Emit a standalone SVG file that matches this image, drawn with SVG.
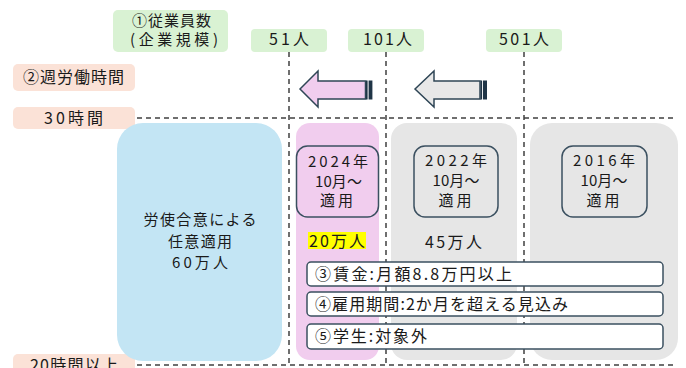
<svg xmlns="http://www.w3.org/2000/svg" width="686" height="368" viewBox="0 0 686 368">
<style>
text{font-family:"Noto Sans CJK JP","Noto Sans",sans-serif;fill:#1a1a1a;text-anchor:middle}
.t16{font-size:16px}
.t15{font-size:15px}
.green{fill:#d9f2d3}
.peach{fill:#fbe2d7}
.guide{stroke:#404040;stroke-width:1.5;stroke-dasharray:5 4;fill:none}
.inner{fill:none;stroke:#3b5060;stroke-width:1.5}
.cond{fill:#ffffff;stroke:#3b5060;stroke-width:1.5}
.arrow{stroke:#2f4656;stroke-width:1.5;stroke-linejoin:miter}
.bar{fill:#1f3446}
.lt{text-anchor:start}
</style>
<g id="connectors">
<line class="guide" x1="137" y1="118" x2="677" y2="118"/>
<line class="guide" x1="137" y1="365" x2="677" y2="365"/>
<line class="guide" x1="289" y1="52" x2="289" y2="365"/>
<line class="guide" x1="386" y1="52" x2="386" y2="365"/>
<line class="guide" x1="524" y1="52" x2="524" y2="365"/>
</g>
<g id="label-employees">
<rect class="green" x="113" y="10" width="115" height="42" rx="5"/>
<text class="t15" x="171.5" y="25.5" textLength="79" lengthAdjust="spacing">①従業員数</text>
<text class="t15" x="174" y="45" textLength="88" lengthAdjust="spacing">(企業規模)</text>
</g>
<g id="label-hours">
<rect class="peach" x="13" y="64" width="122" height="27" rx="5"/>
<text class="t16" x="73.5" y="83" textLength="101" lengthAdjust="spacing">②週労働時間</text>
</g>
<g id="label-30h">
<rect class="peach" x="13" y="107" width="122" height="22" rx="5"/>
<text class="t16" x="73.5" y="123.5" textLength="59" lengthAdjust="spacing">30時間</text>
</g>
<g id="label-20h">
<rect class="peach" x="13" y="354" width="122" height="22" rx="5"/>
<text class="t16" x="74" y="371" textLength="88" lengthAdjust="spacing">20時間以上</text>
</g>
<g id="label-51">
<rect class="green" x="251" y="29" width="76" height="23" rx="4"/>
<text class="t16" x="289" y="45" textLength="40" lengthAdjust="spacing">51人</text>
</g>
<g id="label-101">
<rect class="green" x="348" y="29" width="76" height="23" rx="4"/>
<text class="t16" x="387.5" y="45" textLength="49" lengthAdjust="spacing">101人</text>
</g>
<g id="label-501">
<rect class="green" x="486" y="29" width="76" height="23" rx="4"/>
<text class="t16" x="524" y="45" textLength="50" lengthAdjust="spacing">501人</text>
</g>
<g id="arrow-pink">
<path class="arrow" fill="#f1cdee" d="M300,89 L318,71 L318,81 L365.5,81 L365.5,99 L318,99 L318,107 Z"/>
<rect class="bar" x="366" y="80.5" width="1.6" height="19"/>
<rect class="bar" x="368.6" y="80.5" width="3.8" height="19"/>
</g>
<g id="arrow-gray">
<path class="arrow" fill="#e8e8e8" d="M415,89 L434,71 L434,81 L480,81 L480,99 L434,99 L434,107 Z"/>
<rect class="bar" x="480.5" y="80.5" width="1.6" height="19"/>
<rect class="bar" x="483" y="80.5" width="4" height="19"/>
</g>
<g id="col-voluntary">
<rect x="117" y="123" width="165" height="238" rx="26" fill="#c3e5f4"/>
<text class="t15" x="200" y="225" textLength="113" lengthAdjust="spacing">労使合意による</text>
<text class="t15" x="200" y="247" textLength="64" lengthAdjust="spacing">任意適用</text>
<text class="t15" x="200" y="267.5" textLength="56" lengthAdjust="spacing">60万人</text>
</g>
<g id="col-2024">
<rect x="296" y="123" width="83" height="237" rx="14" fill="#f1cdee"/>
<rect class="inner" x="296.5" y="146" width="82" height="71" rx="11"/>
<text class="t15" x="338" y="167" textLength="60" lengthAdjust="spacing">2024年</text>
<text class="t15" x="338.5" y="187" textLength="47" lengthAdjust="spacing">10月～</text>
<text class="t15" x="336.5" y="206" textLength="33" lengthAdjust="spacing">適用</text>
<rect x="308" y="232" width="58" height="17" fill="#ffff00"/>
<text class="t16" x="337" y="246.5" textLength="56" lengthAdjust="spacing">20万人</text>
</g>
<g id="col-2022">
<rect x="391" y="123" width="126" height="237" rx="16" fill="#e6e6e6"/>
<rect class="inner" x="414" y="146" width="84" height="71" rx="11"/>
<text class="t15" x="456" y="166" textLength="62" lengthAdjust="spacing">2022年</text>
<text class="t15" x="456" y="186" textLength="47" lengthAdjust="spacing">10月～</text>
<text class="t15" x="455" y="205.5" textLength="33" lengthAdjust="spacing">適用</text>
<text class="t16" x="453.5" y="247.5" textLength="57" lengthAdjust="spacing">45万人</text>
</g>
<g id="col-2016">
<rect x="530" y="123" width="148" height="237" rx="22" fill="#e6e6e6"/>
<rect class="inner" x="562" y="146" width="85" height="71" rx="11"/>
<text class="t15" x="604" y="166" textLength="62" lengthAdjust="spacing">2016年</text>
<text class="t15" x="604" y="186" textLength="47" lengthAdjust="spacing">10月～</text>
<text class="t15" x="603" y="205.5" textLength="33" lengthAdjust="spacing">適用</text>
</g>
<g id="cond-wage">
<rect class="cond" x="307" y="262" width="356" height="24" rx="4"/>
<text class="t16 lt" x="315" y="279.5" textLength="197" lengthAdjust="spacing">③賃金:月額8.8万円以上</text>
</g>
<g id="cond-period">
<rect class="cond" x="307" y="292" width="356" height="24" rx="4"/>
<text class="t16 lt" x="315" y="309.5" textLength="253" lengthAdjust="spacing">④雇用期間:2か月を超える見込み</text>
</g>
<g id="cond-student">
<rect class="cond" x="307" y="324" width="356" height="25" rx="4"/>
<text class="t16 lt" x="315" y="342" textLength="112" lengthAdjust="spacing">⑤学生:対象外</text>
</g>
</svg>
